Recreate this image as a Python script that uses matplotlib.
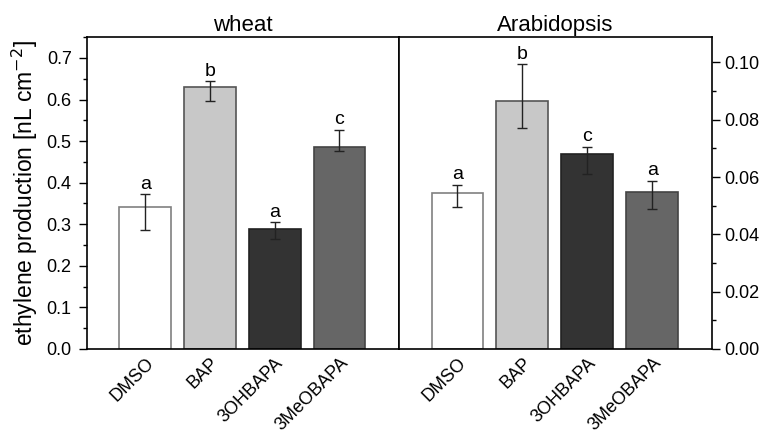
import matplotlib
matplotlib.use("Agg")
import matplotlib.pyplot as plt
from matplotlib.ticker import MultipleLocator
import numpy as np

plt.rcParams['font.family'] = ['Liberation Sans', 'DejaVu Sans']

treatments = ["DMSO", "BAP", "3OHBAPA", "3MeOBAPA"]
colors = ["#ffffff", "#c8c8c8", "#333333", "#666666"]
edges = ["#808080", "#555555", "#222222", "#444444"]

# wheat: mean, lower / upper error bar ends
wheat_mean = [0.342, 0.630, 0.288, 0.485]
wheat_low = [0.287, 0.597, 0.265, 0.475]
wheat_high = [0.372, 0.644, 0.305, 0.527]
wheat_letters = ["a", "b", "a", "c"]

# Arabidopsis
arab_mean = [0.0546, 0.0865, 0.0682, 0.0547]
arab_low = [0.0497, 0.0771, 0.0611, 0.0488]
arab_high = [0.0572, 0.0993, 0.0706, 0.0587]
arab_letters = ["a", "b", "c", "a"]

fig = plt.figure(figsize=(7.64, 4.34), dpi=100)
ax1 = fig.add_axes([0.1139, 0.1959, 0.4084, 0.719])
ax2 = fig.add_axes([0.5223, 0.1959, 0.4097, 0.719])


def draw_panel(ax, mean, low, high, letters, title, ymax, pad):
    x = np.arange(len(treatments))
    mean = np.array(mean)
    yerr = [mean - np.array(low), np.array(high) - mean]
    ax.bar(x, mean, width=0.8, color=colors, edgecolor=edges, linewidth=1.2, zorder=2)
    ax.errorbar(x, mean, yerr=yerr, fmt="none", ecolor="#222222", elinewidth=1,
                capsize=3.5, capthick=1, zorder=3)
    for xi, hi, lab in zip(x, high, letters):
        ax.text(xi, hi + pad, lab, ha="center", va="bottom", fontsize=14)
    ax.set_xlim(-0.9, 3.92)
    ax.set_ylim(0, ymax)
    ax.set_xticks(x)
    ax.set_xticklabels(treatments, rotation=45, ha="right", rotation_mode="anchor",
                       fontsize=13)
    ax.tick_params(axis="x", length=0, pad=4)
    ax.set_title(title, fontsize=16, pad=4)
    for s in ax.spines.values():
        s.set_linewidth(1.2)


draw_panel(ax1, wheat_mean, wheat_low, wheat_high, wheat_letters, "wheat", 0.7505, 0.004)
ax1.yaxis.set_major_locator(MultipleLocator(0.1))
ax1.yaxis.set_minor_locator(MultipleLocator(0.05))
ax1.yaxis.set_major_formatter(plt.FuncFormatter(lambda v, p: f"{v:.1f}"))
ax1.tick_params(axis="y", which="major", direction="out", length=6, width=1, labelsize=13, pad=5)
ax1.tick_params(axis="y", which="minor", direction="out", length=3, width=1)
ax1.set_ylabel("ethylene production [nL cm$^{-2}$]", fontsize=16.5, labelpad=5)

draw_panel(ax2, arab_mean, arab_low, arab_high, arab_letters, "Arabidopsis", 0.1089, 0.0006)
ax2.yaxis.tick_right()
ax2.yaxis.set_major_locator(MultipleLocator(0.02))
ax2.yaxis.set_minor_locator(MultipleLocator(0.01))
ax2.yaxis.set_major_formatter(plt.FuncFormatter(lambda v, p: f"{v:.2f}"))
ax2.tick_params(axis="y", which="major", direction="out", length=6, width=1, labelsize=13, pad=3)
ax2.tick_params(axis="y", which="minor", direction="out", length=3, width=1)

fig.savefig("out.png", dpi=100)
